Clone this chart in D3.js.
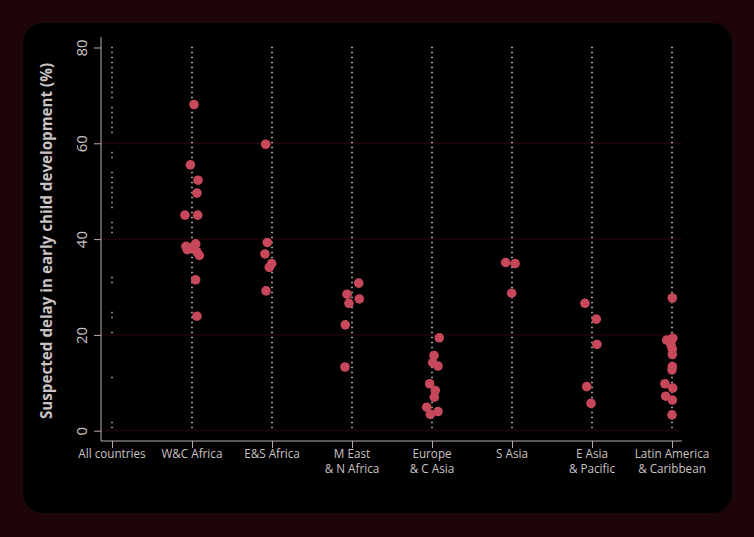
<!DOCTYPE html>
<html><head><meta charset="utf-8">
<script src="https://cdn.jsdelivr.net/npm/d3@7"></script>
<style>
html,body{margin:0;padding:0;background:#1e050a;}
svg{display:block;}
</style></head>
<body>
<svg id="chart" width="754" height="537"></svg>
<script>
// ---------- data ----------
const categories = ["All countries","W&C Africa","E&S Africa","M East\n& N Africa","Europe\n& C Asia","S Asia","E Asia\n& Pacific","Latin America\n& Caribbean"];
const yTicks = [0,20,40,60,80];

const wcAfrica  = [68.1,55.5,52.3,49.6,45.0,45.0,38.5,37.8,39.0,37.4,36.6,38.2,31.5,23.9];
const wcJitter  = [0.025,-0.02,0.075,0.062,-0.088,0.071,-0.075,-0.059,0.046,0.059,0.091,-0.025,0.046,0.062];
const esAfrica  = [59.8,39.3,36.9,34.9,34.1,29.2];
const esJitter  = [-0.079,-0.059,-0.088,-0.004,-0.034,-0.075];
const menaVals  = [30.8,28.5,27.5,26.6,22.1,13.3];
const menaJitter= [0.084,-0.062,0.091,-0.038,-0.084,-0.088];
const ecaVals   = [19.4,15.7,14.2,13.5,9.8,8.4,7.0,4.9,4.0,3.4];
const ecaJitter = [0.091,0.025,0.009,0.075,-0.029,0.041,0.029,-0.066,0.075,-0.021];
const sAsiaVals = [35.1,34.9,28.7];
const sAsiaJitter=[-0.079,0.038,-0.004];
const eapVals   = [26.6,23.3,18.0,9.2,5.7];
const eapJitter = [-0.088,0.054,0.062,-0.066,-0.012];
const lacVals   = [27.7,18.9,19.3,17.9,17.0,15.9,13.4,12.7,9.8,8.9,7.2,6.4,3.3];
const lacJitter = [0.004,-0.066,0.009,-0.012,0.004,0.004,0.004,0,-0.088,0.009,-0.079,0.004,0];

// dotted-guide segments visible in the "All countries" column (value ranges)
const allCountriesSegments = [[69,80],[61.7,67.3],[57.2,58.5],[46.4,54.3],[41,43.4],[30.2,32.6],[23.7,24.9],[20.3,20.7],[10.6,11.0],[-0.1,2.3]];

const series = [
  {cat:1, vals:wcAfrica, jit:wcJitter},
  {cat:2, vals:esAfrica, jit:esJitter},
  {cat:3, vals:menaVals, jit:menaJitter},
  {cat:4, vals:ecaVals, jit:ecaJitter},
  {cat:5, vals:sAsiaVals, jit:sAsiaJitter},
  {cat:6, vals:eapVals, jit:eapJitter},
  {cat:7, vals:lacVals, jit:lacJitter}
];

// ---------- layout ----------
const svg = d3.select("#chart");
const textCol = "#cbc3c3";
const axisCol = "#b9adad";

svg.append("rect").attr("x",0).attr("y",0).attr("width",754).attr("height",537).attr("fill","#1e050a");
svg.append("rect").attr("x",23).attr("y",23).attr("width",709).attr("height",490).attr("rx",20).attr("ry",20).attr("fill","#000");

const pLeft=101, pRight=682, pTop=37, pBottom=441;
const y = d3.scaleLinear().domain([-2.15,82.19]).range([pBottom,pTop]);
const x = d3.scalePoint().domain(d3.range(categories.length)).range([112,672]);

// gridlines
svg.append("g").selectAll("line").data(yTicks.filter(d=>d<80)).join("line")
  .attr("x1",pLeft).attr("x2",pRight)
  .attr("y1",d=>y(d)).attr("y2",d=>y(d))
  .attr("stroke","#2a060d").attr("stroke-width",1);

// dotted guide columns
const step = 5 / (y(0)-y(1)); // ~5px spacing in value units
const guideVals = d3.range(80, -0.01, -step);
const guides = svg.append("g");
categories.forEach((c,i)=>{
  const vals = i===0 ? guideVals.filter(v=>allCountriesSegments.some(s=>v>=s[0]-0.3 && v<=s[1]+0.3)) : guideVals;
  guides.append("g").selectAll("rect").data(vals).join("rect")
    .attr("x",x(i)-0.75).attr("y",d=>y(d)-0.75)
    .attr("width",1.5).attr("height",1.5)
    .attr("fill", i===0 ? "#bdb5b5" : "#d6cece");
});

// axes
const yAxis = d3.axisLeft(y).tickValues(yTicks).tickSize(7).tickPadding(4);
const gy = svg.append("g").attr("transform",`translate(${pLeft},0)`).call(yAxis);
gy.select(".domain").attr("d",`M0,${pTop}V${pBottom}`).attr("stroke",axisCol);
gy.selectAll(".tick line").attr("stroke",axisCol);
gy.selectAll(".tick text")
  .attr("fill",textCol).attr("font-family","'Open Sans', sans-serif").attr("font-size",15)
  .attr("x",null).attr("dy",null)
  .attr("text-anchor","middle")
  .attr("transform","translate(-14,0) rotate(-90)");

const xAxis = d3.axisBottom(x).tickSize(7).tickFormat("");
const gx = svg.append("g").attr("transform",`translate(0,${pBottom})`).call(xAxis);
gx.select(".domain").attr("d",`M${pLeft},0H${pRight}`).attr("stroke",axisCol);
gx.selectAll(".tick line").attr("stroke",axisCol);

// x labels
const lab = svg.append("g").attr("font-family","'Open Sans', sans-serif").attr("font-size",11.7).attr("fill",textCol).attr("text-anchor","middle");
categories.forEach((c,i)=>{
  const t = lab.append("text").attr("x",x(i)).attr("y",pBottom+17);
  c.split("\n").forEach((line,k)=>{
    t.append("tspan").attr("x",x(i)).attr("dy",k===0?0:14.5).text(line);
  });
});

// y title
svg.append("text")
  .attr("transform",`translate(52,${(pTop+pBottom)/2+2}) rotate(-90)`)
  .attr("text-anchor","middle")
  .attr("font-family","'Open Sans', sans-serif").attr("font-weight","bold").attr("font-size",15.2)
  .attr("fill",textCol)
  .text("Suspected delay in early child development (%)");

// points
const pts = [];
series.forEach(s=>s.vals.forEach((v,k)=>pts.push({cat:s.cat,v:v,j:s.jit[k]})));
const band = x.step();
svg.append("g").selectAll("circle").data(pts).join("circle")
  .attr("cx",d=>x(d.cat)+d.j*band)
  .attr("cy",d=>y(d.v))
  .attr("r",4.8)
  .attr("fill","#c8485b");
</script>
</body></html>
